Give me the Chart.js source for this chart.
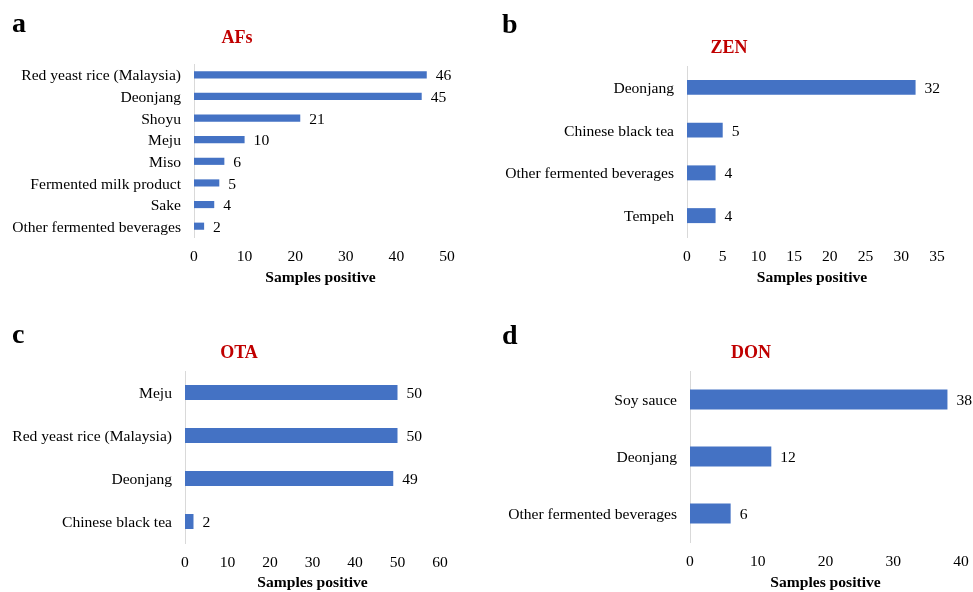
<!DOCTYPE html>
<html>
<head>
<meta charset="utf-8">
<script src="https://cdn.jsdelivr.net/npm/chart.js@4.4.1/dist/chart.umd.min.js"></script>
<style>
  body { margin: 0; background: #fff; }
  #wrap { position: relative; width: 973px; height: 592px; overflow: hidden; font-family: "Liberation Serif", "Times New Roman", serif; }
  canvas { position: absolute; left: 0; top: 0; }
  .letter { position: absolute; font-size: 28px; font-weight: bold; line-height: 28px; color: #000; }
  .title { position: absolute; font-size: 18px; font-weight: bold; line-height: 18px; color: #C00000; transform: translateX(-50%); white-space: nowrap; }
</style>
</head>
<body>
<div id="wrap">
  <canvas id="chartA" width="1000" height="592"></canvas>
  <canvas id="chartB" width="1000" height="592"></canvas>
  <canvas id="chartC" width="1000" height="592"></canvas>
  <canvas id="chartD" width="1000" height="592"></canvas>
  <div class="letter" style="left:12px;top:9px">a</div>
  <div class="letter" style="left:502px;top:10px">b</div>
  <div class="letter" style="left:12px;top:320px">c</div>
  <div class="letter" style="left:502px;top:321px">d</div>
  <div class="title" style="left:237px;top:28px">AFs</div>
  <div class="title" style="left:729px;top:38px">ZEN</div>
  <div class="title" style="left:239px;top:343px">OTA</div>
  <div class="title" style="left:751px;top:343px">DON</div>
</div>
<script>
const afLabels = ['Red yeast rice (Malaysia)', 'Deonjang', 'Shoyu', 'Meju', 'Miso', 'Fermented milk product', 'Sake', 'Other fermented beverages'];
const afValues = [46, 45, 21, 10, 6, 5, 4, 2];

const zenLabels = ['Deonjang', 'Chinese black tea', 'Other fermented beverages', 'Tempeh'];
const zenValues = [32, 5, 4, 4];

const otaLabels = ['Meju', 'Red yeast rice (Malaysia)', 'Deonjang', 'Chinese black tea'];
const otaValues = [50, 50, 49, 2];

const donLabels = ['Soy sauce', 'Deonjang', 'Other fermented beverages'];
const donValues = [38, 12, 6];

// x axis: [max, step]
const afTicks = [50, 10];
const zenTicks = [35, 5];
const otaTicks = [60, 10];
const donTicks = [40, 10];

const serif = '"Liberation Serif", "Times New Roman", serif';
const fs = 15.6;

// numbers at the end of each bar
const valueLabels = {
  id: 'valueLabels',
  afterDatasetsDraw(chart) {
    const ctx = chart.ctx;
    const meta = chart.getDatasetMeta(0);
    ctx.save();
    ctx.font = fs + 'px ' + serif;
    ctx.fillStyle = '#000';
    ctx.textBaseline = 'middle';
    meta.data.forEach((bar, i) => {
      ctx.fillText(chart.data.datasets[0].data[i], bar.x + 9, bar.y + 1.5);
    });
    ctx.restore();
  }
};

function drawPanel(id, labels, values, ticks, box, barPct) {
  // canvas is a bit wider than the page so the last x tick never squeezes the plot
  const W = 1000, H = 592, yw = box.left - 2;
  const xh = box.titleY + 9 - box.bottom;
  new Chart(document.getElementById(id), {
    type: 'bar',
    data: {
      labels: labels,
      datasets: [{ data: values, backgroundColor: '#4472C4', barPercentage: barPct, categoryPercentage: 1 }]
    },
    options: {
      indexAxis: 'y',
      responsive: false,
      animation: false,
      events: [],
      layout: { padding: { left: 2, right: W - box.right, top: box.top, bottom: H - box.bottom - xh } },
      plugins: { legend: { display: false }, tooltip: { enabled: false } },
      scales: {
        x: {
          min: 0, max: ticks[0],
          ticks: { stepSize: ticks[1], padding: 11, color: '#000', font: { family: serif, size: fs } },
          grid: { display: false, drawTicks: false },
          border: { display: false },
          title: { display: true, text: 'Samples positive', color: '#000', padding: 0, font: { family: serif, size: fs, weight: 'bold' } },
          afterFit: s => { s.height = xh; }
        },
        y: {
          ticks: { padding: 13, labelOffset: 1.5, autoSkip: false, color: '#000', font: { family: serif, size: fs, lineHeight: 1 } },
          grid: { display: false, drawTicks: false },
          border: { display: true, color: '#D9D9D9', width: 1 },
          afterFit: s => { s.width = yw; }
        }
      }
    },
    plugins: [valueLabels]
  });
}

drawPanel('chartA', afLabels, afValues, afTicks, { left: 194, right: 447, top: 64, bottom: 237, titleY: 278 }, 0.33);
drawPanel('chartB', zenLabels, zenValues, zenTicks, { left: 687, right: 937, top: 66, bottom: 237, titleY: 278 }, 0.35);
drawPanel('chartC', otaLabels, otaValues, otaTicks, { left: 185, right: 440, top: 371, bottom: 543, titleY: 583 }, 0.35);
drawPanel('chartD', donLabels, donValues, donTicks, { left: 690, right: 961, top: 371, bottom: 542, titleY: 583 }, 0.35);
</script>
</body>
</html>
